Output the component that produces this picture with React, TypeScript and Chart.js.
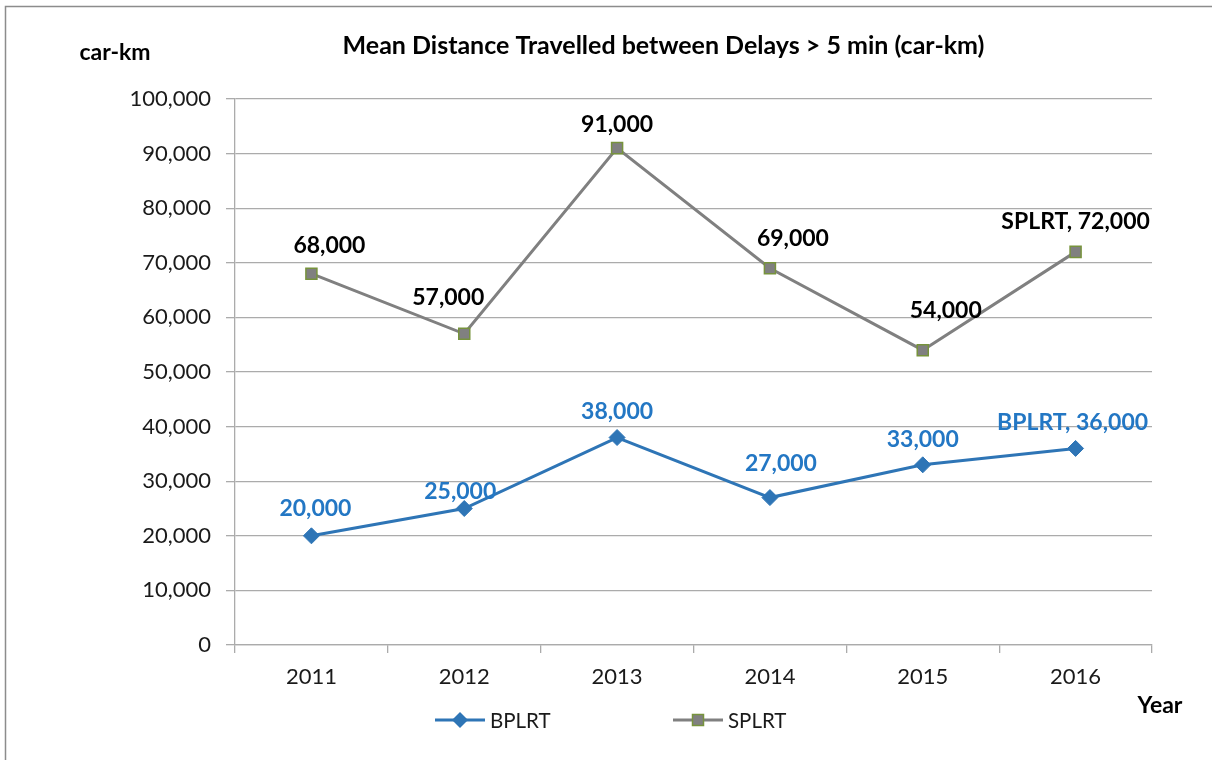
import React, { useEffect, useRef } from "react";
import { Chart, registerables } from "chart.js";

Chart.register(...registerables);

// ---- data ----
const years = ["2011", "2012", "2013", "2014", "2015", "2016"];
const bplrtValues = [20000, 25000, 38000, 27000, 33000, 36000];
const splrtValues = [68000, 57000, 91000, 69000, 54000, 72000];
const yMin = 0;
const yMax = 100000;
const yStep = 10000;
const chartTitle = "Mean Distance Travelled between Delays > 5 min (car-km)";
const yUnitLabel = "car-km";
const xUnitLabel = "Year";
const seriesNames = ["BPLRT", "SPLRT"];

// label nudges (pixels) relative to each point
const bplrtLabelNudge = [[4, -27], [-4, -17], [0, -26], [11, -34], [0, -25], [-3, -26]];
const splrtLabelNudge = [[18, -28], [-16, -36], [0, -24], [23, -30], [23, -40], [0, -30]];

const FONT = "Lato, 'Open Sans', sans-serif";
const BLUE = "#2e75b6";
const BLUE_TEXT = "#2377c4";
const GRAY = "#808080";
const GREEN_EDGE = "#77933c";
const GRID = "#ababab";

const fmt = (v: number) => v.toLocaleString("en-US");

const decorPlugin = {
  id: "decor",
  afterDatasetsDraw(chart: any) {
    const ctx = chart.ctx as CanvasRenderingContext2D;
    const area = chart.chartArea;
    ctx.save();
    // outer frame (top and left visible)
    ctx.strokeStyle = "#8c8c8c";
    ctx.lineWidth = 1.5;
    ctx.beginPath();
    ctx.moveTo(5.5, 770);
    ctx.lineTo(5.5, 6.5);
    ctx.lineTo(1220, 6.5);
    ctx.stroke();

    // title
    ctx.fillStyle = "#000";
    ctx.textAlign = "center";
    ctx.textBaseline = "middle";
    ctx.font = `bold 25px ${FONT}`;
    ctx.fillText(chartTitle, (area.left + area.right) / 2 - 30, 46);

    // axis unit labels
    ctx.font = `bold 23px ${FONT}`;
    ctx.fillText(yUnitLabel, area.left - 120, 53);
    ctx.fillText(xUnitLabel, area.right + 8, 706);

    // data labels
    const drawLabels = (dsIndex: number, values: number[], nudges: number[][], color: string, prefix: string) => {
      const meta = chart.getDatasetMeta(dsIndex);
      ctx.fillStyle = color;
      ctx.font = `bold 23px ${FONT}`;
      meta.data.forEach((pt: any, i: number) => {
        const last = i === values.length - 1;
        const text = (last ? prefix + ", " : "") + fmt(values[i]);
        ctx.fillText(text, pt.x + nudges[i][0], pt.y + nudges[i][1]);
      });
    };
    drawLabels(1, splrtValues, splrtLabelNudge, "#000", seriesNames[1]);
    drawLabels(0, bplrtValues, bplrtLabelNudge, BLUE_TEXT, seriesNames[0]);

    // legend
    const legendY = 720;
    const items = [
      { name: seriesNames[0], x: 435, color: BLUE, style: "diamond" },
      { name: seriesNames[1], x: 673, color: GRAY, style: "square" },
    ];
    ctx.font = `20.5px ${FONT}`;
    ctx.textAlign = "left";
    items.forEach((it) => {
      ctx.strokeStyle = it.color;
      ctx.lineWidth = 3;
      ctx.beginPath();
      ctx.moveTo(it.x, legendY);
      ctx.lineTo(it.x + 50, legendY);
      ctx.stroke();
      const cx = it.x + 25;
      if (it.style === "diamond") {
        ctx.fillStyle = BLUE;
        ctx.beginPath();
        ctx.moveTo(cx - 8, legendY);
        ctx.lineTo(cx, legendY - 8);
        ctx.lineTo(cx + 8, legendY);
        ctx.lineTo(cx, legendY + 8);
        ctx.closePath();
        ctx.fill();
      } else {
        ctx.fillStyle = GRAY;
        ctx.fillRect(cx - 5.5, legendY - 5.5, 11, 11);
        ctx.strokeStyle = GREEN_EDGE;
        ctx.lineWidth = 1.5;
        ctx.strokeRect(cx - 5.5, legendY - 5.5, 11, 11);
      }
      ctx.fillStyle = "#1a1a1a";
      ctx.fillText(it.name, it.x + 55, legendY + 1);
    });
    ctx.restore();
  },
};

export default function App() {
  const canvasRef = useRef<HTMLCanvasElement | null>(null);

  useEffect(() => {
    if (!canvasRef.current) return;
    const chart = new Chart(canvasRef.current, {
      type: "line",
      data: {
        labels: years,
        datasets: [
          {
            label: seriesNames[0],
            data: bplrtValues,
            borderColor: BLUE,
            backgroundColor: BLUE,
            borderWidth: 3,
            pointStyle: "rectRot",
            pointRadius: 8,
            pointBackgroundColor: BLUE,
            pointBorderColor: BLUE,
            pointBorderWidth: 1,
            tension: 0,
          },
          {
            label: seriesNames[1],
            data: splrtValues,
            borderColor: GRAY,
            backgroundColor: GRAY,
            borderWidth: 3,
            pointStyle: "rect",
            pointRadius: 7.8,
            pointBackgroundColor: GRAY,
            pointBorderColor: GREEN_EDGE,
            pointBorderWidth: 1.5,
            tension: 0,
          },
        ],
      },
      options: {
        responsive: false,
        animation: false,
        events: [],
        layout: { padding: { left: 0, top: 99, right: 60, bottom: 55 } },
        plugins: {
          legend: { display: false },
          title: { display: false },
          tooltip: { enabled: false },
        },
        scales: {
          x: {
            offset: true,
            grid: {
              offset: true,
              drawOnChartArea: false,
              drawTicks: true,
              tickLength: 8,
              color: GRID,
              lineWidth: 1.3,
            },
            border: { display: true, color: GRID, width: 1.3 },
            ticks: {
              color: "#1a1a1a",
              font: { family: FONT, size: 22 },
              padding: 11,
              maxRotation: 0,
            },
            afterFit: (s: any) => {
              s.height = 60;
            },
          },
          y: {
            min: yMin,
            max: yMax,
            grid: {
              color: GRID,
              lineWidth: 1.3,
              drawTicks: true,
              tickLength: 9,
            },
            border: { display: true, color: GRID, width: 1.3 },
            ticks: {
              stepSize: yStep,
              color: "#1a1a1a",
              font: { family: FONT, size: 22 },
              padding: 15,
              callback: (v: any) => fmt(Number(v)),
            },
            afterFit: (s: any) => {
              s.width = 235;
            },
          },
        },
      },
      plugins: [decorPlugin],
    });
    return () => chart.destroy();
  }, []);

  return (
    <div style={{ position: "absolute", left: 0, top: 0, width: 1212, height: 760, background: "#fff" }}>
      <canvas ref={canvasRef} width={1212} height={760} style={{ width: 1212, height: 760, display: "block" }} />
    </div>
  );
}
